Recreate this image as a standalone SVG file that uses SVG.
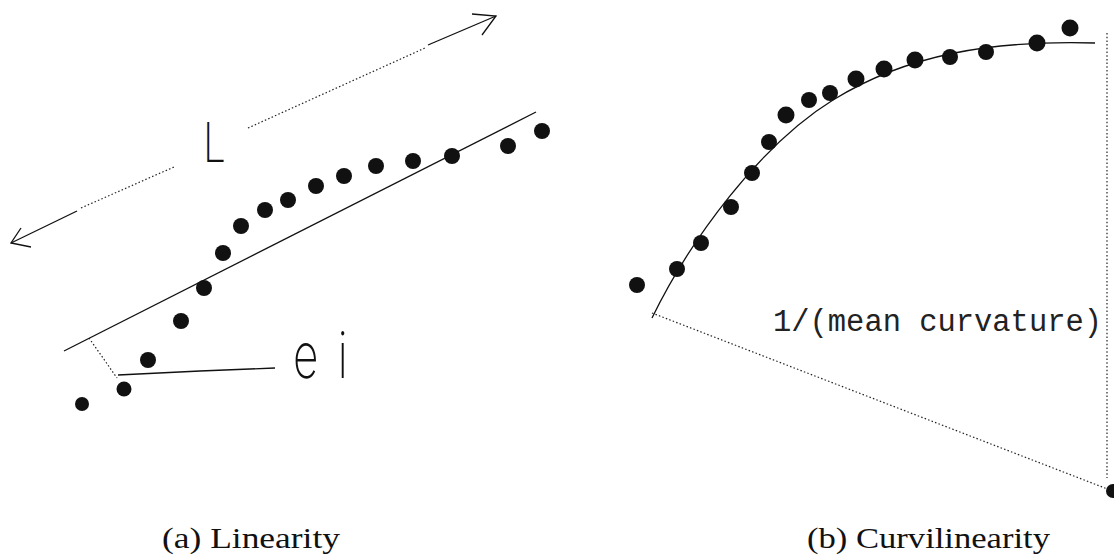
<svg xmlns="http://www.w3.org/2000/svg" width="1114" height="556" viewBox="0 0 1114 556">
<style>
.ln{stroke:#111;stroke-width:1.3;fill:none}
.dt{stroke:#222;stroke-width:1.2;fill:none;stroke-dasharray:1.5 2.2}
.pt{fill:#111}
.lbl{font-family:Inter,"Liberation Sans",sans-serif;font-weight:200;fill:#111}
.mono{font-family:"Liberation Mono","DejaVu Sans Mono",monospace;fill:#222}
.cap{font-family:"Liberation Serif","DejaVu Serif",serif;fill:#111}
</style>
<rect width="1114" height="556" fill="#fff"/>
<g id="panel-a">
<g id="connectors-a">
<line class="ln" x1="64" y1="351" x2="536" y2="112"/>
<line class="dt" x1="89" y1="338" x2="117" y2="378"/>
<polyline class="ln" points="118,375 200,371 275,368"/>
<line class="ln" x1="77" y1="211" x2="11" y2="243"/>
<polyline class="ln" points="21,228 11,243 31,247"/>
<line class="dt" x1="81" y1="208" x2="174" y2="167"/>
<line class="dt" x1="248" y1="128" x2="425" y2="48"/>
<line class="ln" x1="428" y1="45" x2="496" y2="16"/>
<polyline class="ln" points="472,14 496,16 482,35"/>
</g>
<g id="points-a">
<circle class="pt" cx="82" cy="404" r="7"/>
<circle class="pt" cx="124" cy="389" r="7.5"/>
<circle class="pt" cx="148" cy="360" r="8"/>
<circle class="pt" cx="181" cy="321" r="8"/>
<circle class="pt" cx="204" cy="288" r="8"/>
<circle class="pt" cx="223" cy="253" r="8"/>
<circle class="pt" cx="241" cy="226" r="8"/>
<circle class="pt" cx="265" cy="210" r="8"/>
<circle class="pt" cx="288" cy="200" r="8"/>
<circle class="pt" cx="316" cy="186" r="8"/>
<circle class="pt" cx="344" cy="176" r="8"/>
<circle class="pt" cx="376" cy="166" r="8"/>
<circle class="pt" cx="413" cy="161" r="8"/>
<circle class="pt" cx="452" cy="156" r="8"/>
<circle class="pt" cx="508" cy="146" r="8"/>
<circle class="pt" cx="542" cy="131" r="8"/>
</g>
<g id="label-L"><text class="lbl" transform="translate(203,162) scale(0.7,0.95)" font-size="58">L</text></g>
<g id="label-ei"><text class="lbl" transform="translate(293,378) scale(0.69,1)" font-size="64">e<tspan dx="28">i</tspan></text></g>
<g id="caption-a"><text class="cap" x="162" y="548" font-size="30" textLength="178" lengthAdjust="spacingAndGlyphs">(a) Linearity</text></g>
</g>
<g id="panel-b">
<g id="connectors-b">
<path class="ln" d="M652,318 C690,240 760,145 833,100 S990,40 1095,43"/>
<line class="dt" x1="652" y1="313" x2="1110" y2="490"/>
<line class="dt" x1="1107" y1="33" x2="1107" y2="478"/>
</g>
<g id="points-b">
<circle class="pt" cx="637" cy="285" r="8"/>
<circle class="pt" cx="677" cy="269" r="8"/>
<circle class="pt" cx="701" cy="243" r="8"/>
<circle class="pt" cx="731" cy="207" r="8"/>
<circle class="pt" cx="752" cy="173" r="8"/>
<circle class="pt" cx="769" cy="142" r="8"/>
<circle class="pt" cx="786" cy="115" r="8.5"/>
<circle class="pt" cx="809" cy="100" r="8"/>
<circle class="pt" cx="830" cy="93" r="8"/>
<circle class="pt" cx="856" cy="79" r="8.5"/>
<circle class="pt" cx="884" cy="69" r="8.5"/>
<circle class="pt" cx="915" cy="60" r="8.5"/>
<circle class="pt" cx="950" cy="57" r="8"/>
<circle class="pt" cx="986" cy="52" r="8"/>
<circle class="pt" cx="1037" cy="43" r="8.5"/>
<circle class="pt" cx="1070" cy="28" r="8.5"/>
<circle class="pt" cx="1113" cy="491" r="7"/>
</g>
<g id="label-radius"><text class="mono" x="773" y="331" font-size="31" textLength="329" lengthAdjust="spacingAndGlyphs">1/(mean curvature)</text></g>
<g id="caption-b"><text class="cap" x="807" y="548" font-size="30" textLength="243" lengthAdjust="spacingAndGlyphs">(b) Curvilinearity</text></g>
</g>
</svg>
